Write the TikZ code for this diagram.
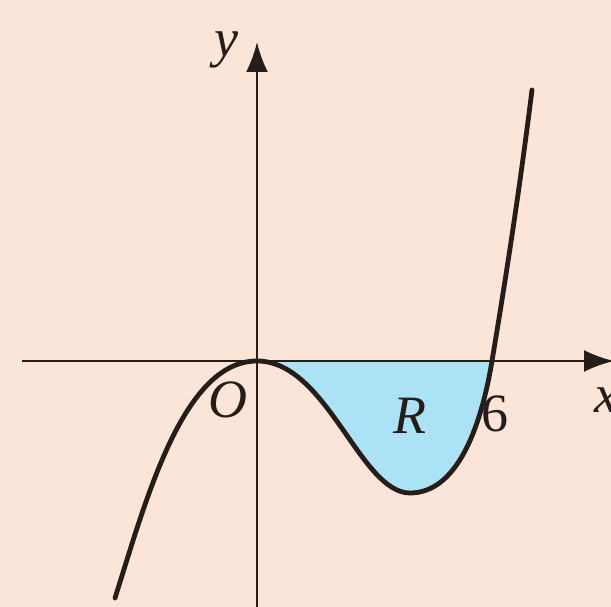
\documentclass[tikz,border=0pt]{standalone}
\usepackage{fontspec}
\setmainfont{Liberation Serif}
\usetikzlibrary{arrows.meta}
\definecolor{bgpink}{RGB}{251,228,216}
\definecolor{regblue}{RGB}{172,226,246}
\definecolor{ink}{RGB}{38,28,24}
\tikzset{
  axis/.style={draw=ink, line width=2.6pt, -{Latex[length=30pt,width=22pt]}},
  curve/.style={draw=ink, line width=4.8pt, line cap=round, line join=round},
  lbl/.style={inner sep=0pt, text=ink, font=\fontsize{54}{60}\selectfont}
}
\begin{document}
\begin{tikzpicture}[x=1pt,y=1pt]
\fill[bgpink] (-257,-246) rectangle (354,361);
\useasboundingbox (-257,-246) rectangle (354,361);
% key points of the curve
\coordinate (cl) at (-142,-237);
\coordinate (o) at (0,0);
\coordinate (m) at (153,-132);
\coordinate (r6) at (235,0);
\coordinate (ct) at (275,271);
% region R
\fill[regblue] (o) .. controls (70,0) and (103,-132) .. (m)
  .. controls (198,-132) and (223,-72) .. (r6) -- cycle;
% axes
\coordinate (xs) at (-235,0);
\coordinate (xe) at (357,0);
\coordinate (ys) at (0,-250);
\coordinate (ye) at (0,319);
\draw[axis] (xs) -- (xe);
\draw[axis] (ys) -- (ye);
% curve
\draw[curve] (cl) .. controls (-112,-143) and (-75,0) .. (o)
  .. controls (70,0) and (103,-132) .. (m)
  .. controls (198,-132) and (223,-72) .. (r6)
  .. controls (250,90) and (263,175) .. (ct);
% labels
\node[lbl] (ylab) at (-31,311) {\itshape y};
\node[lbl] (olab) at (-29,-39) {\itshape O};
\node[lbl] (rlab) at (153,-55) {\itshape R};
\node[lbl] (six) at (238,-53) {6};
\node[lbl] (xlab) at (349,-39) {\itshape x};
\end{tikzpicture}
\end{document}
